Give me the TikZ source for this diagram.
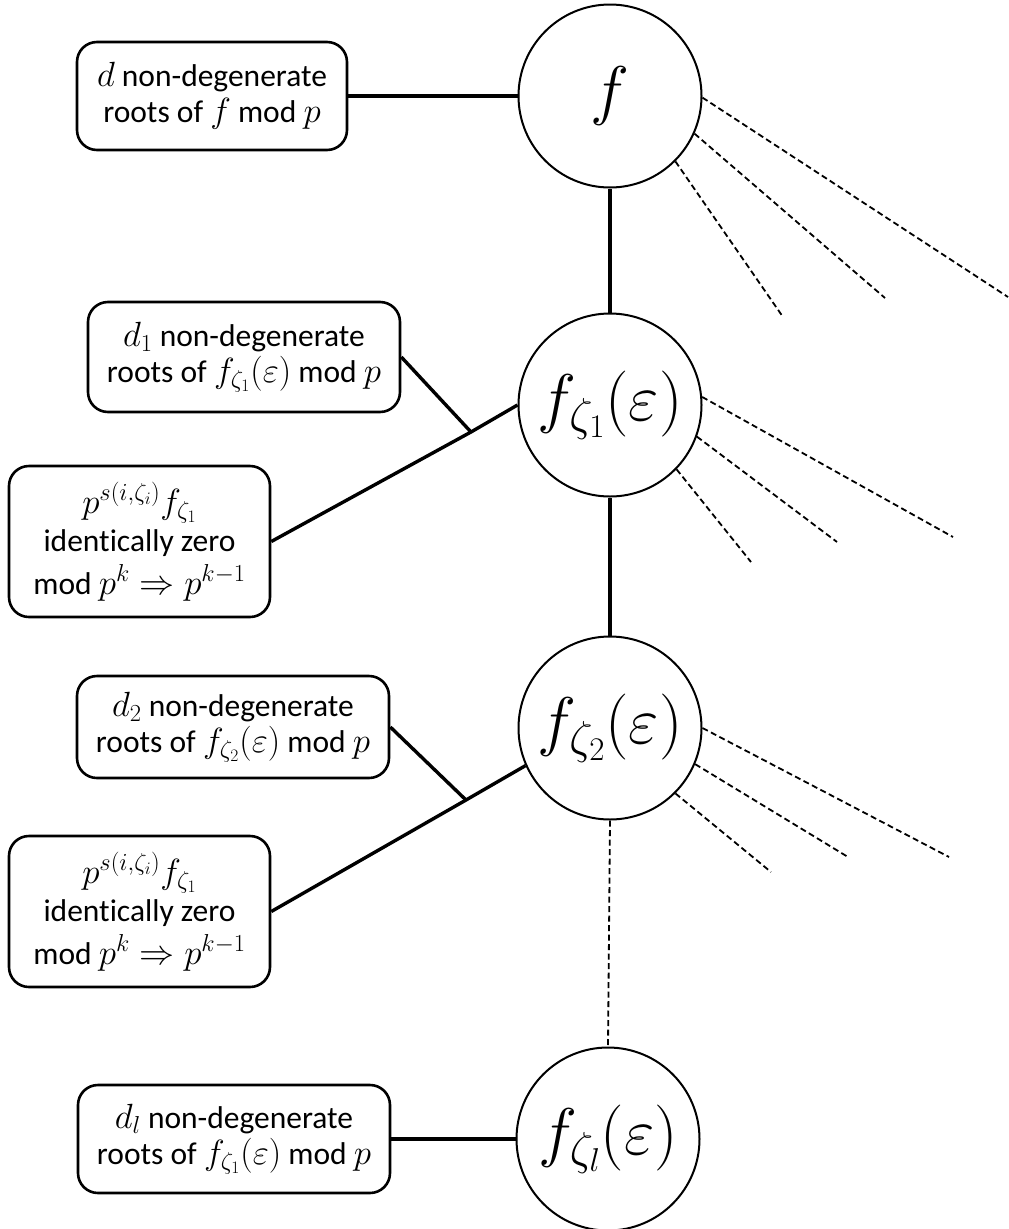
\RequirePackage{fix-cm}
\documentclass[tikz,border=0pt]{standalone}
\usepackage{fontspec}
\setmainfont{Carlito}[Ligatures=NoCommon]
% math set slightly larger so it sits well beside the sans text
\newcommand\mm[1]{{\fontsize{35}{36}\selectfont$#1$}}
\begin{document}
\begin{tikzpicture}[x=1pt,y=-1pt,
  box/.style={draw, line width=2.6pt, rounded corners=20pt, align=center,
    inner sep=0pt, font=\fontsize{31.5}{36}\selectfont},
  tallbox/.style={box, font=\fontsize{31.5}{38}\selectfont},
  fnode/.style={draw, circle, line width=2pt, minimum size=183pt, inner sep=0pt,
    font=\fontsize{66}{68}\selectfont},
  link/.style={line width=3.4pt},
  ray/.style={line width=1.8pt, dash pattern=on 6pt off 3.5pt}]
\useasboundingbox (0,0) rectangle (1009,1229);

% polynomial nodes
\node[fnode] (f)  at (610,96)   {$f$};
\node[fnode] (c1) at (610,405)  {$f_{\zeta_1}(\varepsilon)$};
\node[fnode] (c2) at (610,728)  {$f_{\zeta_2}(\varepsilon)$};
\node[fnode] (cl) at (608,1139) {$f_{\zeta_l}(\varepsilon)$};

% annotation boxes
\node[box, minimum width=270pt, minimum height=108pt] (b1) at (212,96)
  {\mm{d} non-degenerate\\ roots of \mm{f} mod \mm{p}};
\node[box, minimum width=312pt, minimum height=110pt] (b2) at (244,357)
  {\mm{d_1} non-degenerate\\ roots of \mm{f_{\zeta_1}(\varepsilon)} mod \mm{p}};
\node[tallbox, minimum width=261pt, minimum height=151pt] (b3) at (139.5,541.5)
  {\mm{p^{s(i,\zeta_i)}f_{\zeta_1}}\\ identically zero\\[5pt] mod \mm{p^k\Rightarrow p^{k-1}}};
\node[box, minimum width=312pt, minimum height=102pt] (b4) at (233,727)
  {\mm{d_2} non-degenerate\\ roots of \mm{f_{\zeta_2}(\varepsilon)} mod \mm{p}};
\node[tallbox, minimum width=261pt, minimum height=151pt] (b5) at (139.5,911.5)
  {\mm{p^{s(i,\zeta_i)}f_{\zeta_1}}\\ identically zero\\[5pt] mod \mm{p^k\Rightarrow p^{k-1}}};
\node[box, minimum width=312pt, minimum height=108pt] (b6) at (234,1139)
  {\mm{d_l} non-degenerate\\ roots of \mm{f_{\zeta_1}(\varepsilon)} mod \mm{p}};

% branching points
\coordinate (j1) at (471,432);
\coordinate (j2) at (466,800);

% main chain
\draw[link] (f.south) -- (c1.north);
\draw[link] (c1.south) -- (c2.north);
\draw[ray] (c2.south) -- (cl.north);

% box connectors
\draw[link] (b1.east) -- (f.west);
\draw[link] (b3.east) -- (j1) -- (c1.west);
\draw[link] (b2.east) -- (j1);
\draw[link] (b5.east) -- (j2) -- (c2.204);
\draw[link] (b4.east) -- (j2);
\draw[link] (b6.east) -- (cl.west);

% open branches
\coordinate (fa) at (1008,297);
\coordinate (fb) at (885,298);
\coordinate (fc) at (783,317);
\draw[ray] (f.-1) -- (fa);
\draw[ray] (f.-24) -- (fb);
\draw[ray] (f.-45) -- (fc);

\coordinate (ga) at (953,537);
\coordinate (gb) at (837,542);
\coordinate (gc) at (751,562);
\draw[ray] (c1.5) -- (ga);
\draw[ray] (c1.-20) -- (gb);
\draw[ray] (c1.-44) -- (gc);

\coordinate (ha) at (949,857);
\coordinate (hb) at (848,857);
\coordinate (hc) at (771,872);
\draw[ray] (c2.0) -- (ha);
\draw[ray] (c2.-23) -- (hb);
\draw[ray] (c2.-45) -- (hc);
\end{tikzpicture}
\end{document}
